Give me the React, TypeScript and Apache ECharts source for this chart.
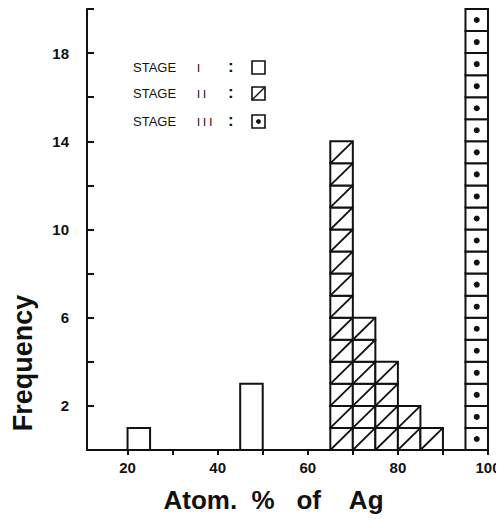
import React, { useEffect, useRef } from "react";
import * as echarts from "echarts";

// bins: [start, end, count]
const stage1Bins: number[][] = [
  [20, 25, 1],
  [45, 50, 3],
];
const stage2Bins: number[][] = [
  [65, 70, 14],
  [70, 75, 6],
  [75, 80, 4],
  [80, 85, 2],
  [85, 90, 1],
];
const stage3Bins: number[][] = [[95, 100, 20]];

const xTickValues = [20, 30, 40, 50, 60, 70, 80, 90, 100];
const xLabelValues = [20, 40, 60, 80, 100];
const yLabelValues = [2, 6, 10, 14, 18];
const legendNames = ["STAGE", "STAGE", "STAGE"];
const legendNumerals = ["I", "I I", "I I I"];

const FONT = "'Liberation Sans', Arial, Helvetica, sans-serif";

function makeRender(kind: number) {
  return (params: any, api: any) => {
    const x0 = api.value(0);
    const x1 = api.value(1);
    const n = api.value(2);
    const children: any[] = [];
    const stroke = { stroke: "#111", lineWidth: 2, fill: "#fff" };
    if (kind === 0) {
      const a = api.coord([x0, n]);
      const b = api.coord([x1, 0]);
      children.push({
        type: "rect",
        shape: { x: a[0], y: a[1], width: b[0] - a[0], height: b[1] - a[1] },
        style: stroke,
      });
    } else {
      for (let k = 0; k < n; k++) {
        const a = api.coord([x0, k + 1]);
        const b = api.coord([x1, k]);
        children.push({
          type: "rect",
          shape: { x: a[0], y: a[1], width: b[0] - a[0], height: b[1] - a[1] },
          style: stroke,
        });
        if (kind === 1) {
          children.push({
            type: "line",
            shape: { x1: a[0], y1: b[1], x2: b[0], y2: a[1] },
            style: { stroke: "#111", lineWidth: 1.8 },
          });
        } else {
          children.push({
            type: "circle",
            shape: { cx: (a[0] + b[0]) / 2, cy: (a[1] + b[1]) / 2, r: 3 },
            style: { fill: "#111" },
          });
        }
      }
    }
    return { type: "group", children };
  };
}

function legendGraphics() {
  const ys = [68, 94, 122];
  const out: any[] = [];
  ys.forEach((y, i) => {
    out.push({
      type: "text",
      left: 133,
      top: y - 7,
      style: { text: legendNames[i], font: `13px ${FONT}`, fill: "#111" },
    });
    out.push({
      type: "text",
      left: 197,
      top: y - 6,
      style: { text: legendNumerals[i], font: `11px ${FONT}`, fill: "#000" },
    });
    out.push({
      type: "text",
      left: 228,
      top: y - 10,
      style: { text: ":", font: `bold 17px ${FONT}`, fill: "#111" },
    });
    const bx = 252;
    const by = y - 7;
    const s = 13;
    out.push({
      type: "rect",
      shape: { x: bx, y: by, width: s, height: s },
      style: { fill: "#fff", stroke: "#111", lineWidth: 1.6 },
    });
    if (i === 1) {
      out.push({
        type: "line",
        shape: { x1: bx, y1: by + s, x2: bx + s, y2: by },
        style: { stroke: "#111", lineWidth: 1.4 },
      });
    }
    if (i === 2) {
      out.push({
        type: "circle",
        shape: { cx: bx + s / 2, cy: by + s / 2, r: 2.4 },
        style: { fill: "#111" },
      });
    }
  });
  return out;
}

export default function App() {
  const ref = useRef<HTMLDivElement>(null);
  useEffect(() => {
    if (!ref.current) return;
    const chart = echarts.init(ref.current, null, { renderer: "svg" });
    chart.setOption({
      animation: false,
      backgroundColor: "#fff",
      grid: { left: 87, right: 16, top: 9, bottom: 78 },
      xAxis: {
        type: "value",
        min: 11,
        max: 100,
        splitLine: { show: false },
        axisLine: { lineStyle: { color: "#111", width: 2 } },
        axisTick: {
          show: true,
          customValues: xTickValues,
          length: 5,
          lineStyle: { color: "#111", width: 2 },
        },
        axisLabel: {
          customValues: xLabelValues,
          color: "#111",
          fontFamily: FONT,
          fontWeight: "bold",
          fontSize: 15,
          margin: 10,
        },
        name: "Atom.  %   of    Ag",
        nameLocation: "middle",
        nameGap: 37,
        nameTextStyle: {
          fontFamily: FONT,
          fontWeight: "bold",
          fontSize: 26,
          color: "#111",
          padding: [0, 28, 0, 0],
        },
      },
      yAxis: {
        type: "value",
        min: 0,
        max: 20,
        interval: 2,
        splitLine: { show: false },
        axisLine: { show: true, lineStyle: { color: "#111", width: 2 } },
        axisTick: {
          show: true,
          inside: true,
          length: 7,
          lineStyle: { color: "#111", width: 2 },
        },
        axisLabel: {
          color: "#111",
          fontFamily: FONT,
          fontWeight: "bold",
          fontSize: 15,
          margin: 18,
          formatter: (v: number) => (yLabelValues.includes(v) ? String(v) : ""),
        },
      },
      graphic: [
        {
          type: "text",
          x: 23,
          y: 363,
          rotation: Math.PI / 2,
          style: {
            text: "Frequency",
            font: `bold 27px ${FONT}`,
            fill: "#111",
            align: "center",
            verticalAlign: "middle",
          },
        },
        ...legendGraphics(),
      ],
      series: [
        {
          name: "STAGE I",
          type: "custom",
          renderItem: makeRender(0),
          encode: { x: [0, 1], y: 2 },
          data: stage1Bins,
          clip: false,
        },
        {
          name: "STAGE II",
          type: "custom",
          renderItem: makeRender(1),
          encode: { x: [0, 1], y: 2 },
          data: stage2Bins,
          clip: false,
        },
        {
          name: "STAGE III",
          type: "custom",
          renderItem: makeRender(2),
          encode: { x: [0, 1], y: 2 },
          data: stage3Bins,
          clip: false,
        },
      ],
    });
    return () => chart.dispose();
  }, []);
  return <div ref={ref} style={{ width: 504, height: 528, margin: -8 }} />;
}
